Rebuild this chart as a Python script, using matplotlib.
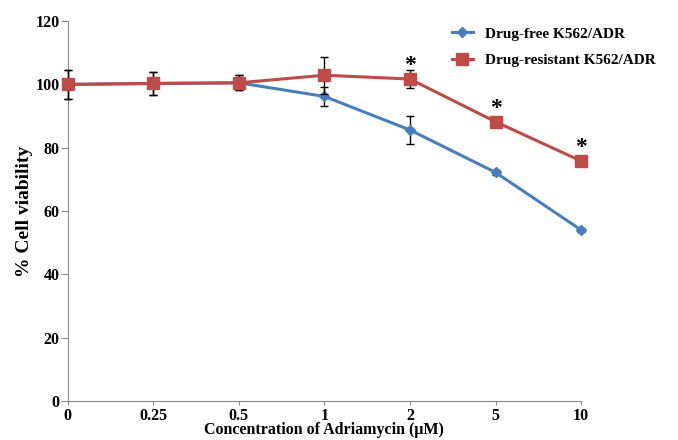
import matplotlib.pyplot as plt
import numpy as np

conc = ["0", "0.25", "0.5", "1", "2", "5", "10"]
free_vals = [100, 100.3, 100.5, 96.2, 85.6, 72.2, 54.0]
free_err = [4.7, 3.6, 2.4, 3.0, 4.5, 0.8, 0.6]
res_vals = [100, 100.3, 100.5, 102.9, 101.7, 88.2, 75.8]
res_err = [4.7, 3.6, 2.4, 5.8, 2.8, 1.0, 0.6]
star_idx = [4, 5, 6]

plt.rcParams['font.family'] = ['Liberation Serif', 'DejaVu Serif']
plt.rcParams['font.weight'] = 'bold'

fig = plt.figure(figsize=(6.78, 4.4), dpi=100)
ax = fig.add_axes([0.1, 0.089, 0.757, 0.863])

x = np.arange(len(conc))
blue = "#4A7EBB"
red = "#BE4B48"

eb1 = ax.errorbar(x, free_vals, yerr=free_err, color=blue, lw=2.2, marker="D", ms=5,
                  ecolor="black", elinewidth=1, capsize=3, capthick=1,
                  label="Drug-free K562/ADR", zorder=3)
eb2 = ax.errorbar(x, res_vals, yerr=res_err, color=red, lw=2.2, marker="s", ms=8,
                  ecolor="black", elinewidth=1, capsize=3, capthick=1,
                  label="Drug-resistant K562/ADR", zorder=4)
for eb in (eb1, eb2):
    eb[0].set_clip_on(False)
    for c in eb[1]:
        c.set_clip_on(False)
    for c in eb[2]:
        c.set_clip_on(False)

for i in star_idx:
    ax.text(x[i], res_vals[i] + 1.0, "*", ha="center", va="bottom",
            fontsize=17, fontweight="bold")

ax.set_xlim(0, len(conc) - 1)
ax.set_ylim(0, 120)
ax.set_yticks(range(0, 121, 20))
ax.set_xticks(x)
ax.set_xticklabels(conc)
ax.tick_params(labelsize=11.5, direction="out", color="#888888")
ax.tick_params(axis="x", pad=2, length=3)
ax.tick_params(axis="y", pad=1, length=5)
for lbl in ax.get_xticklabels() + ax.get_yticklabels():
    lbl.set_fontweight("bold")

for s in ["top", "right"]:
    ax.spines[s].set_visible(False)
for s in ["left", "bottom"]:
    ax.spines[s].set_color("#888888")

ax.set_xlabel("Concentration of Adriamycin (\u03bcM)", fontsize=11.5, fontweight="bold", labelpad=-1)
ax.set_ylabel("% Cell viability", fontsize=14, fontweight="bold", labelpad=2)

handles, labels = ax.get_legend_handles_labels()
handles = [h[0] for h in handles]
fig.legend(handles, labels, loc="upper left", bbox_to_anchor=(0.646, 0.97),
           frameon=False, handlelength=1.4, handletextpad=0.8, labelspacing=0.85,
           prop={"weight": "bold", "size": 11})

fig.savefig("out.png", dpi=100)
